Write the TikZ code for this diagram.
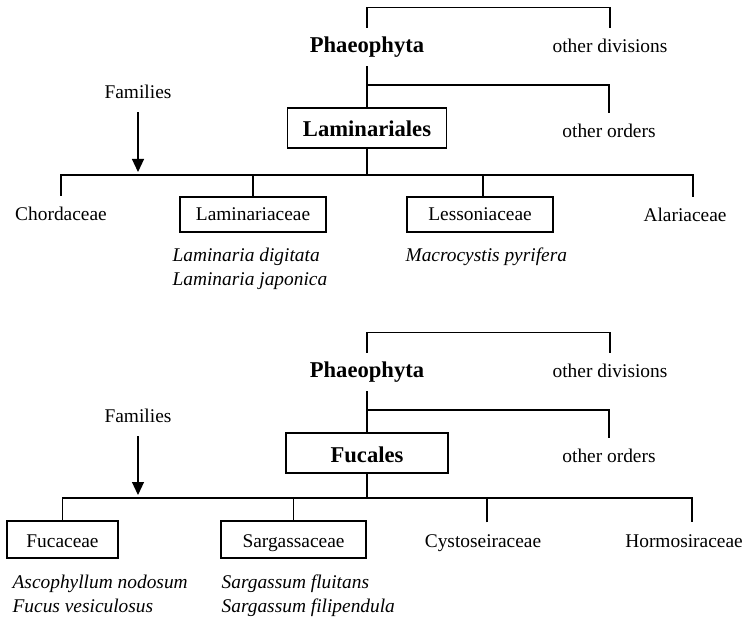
\documentclass[tikz,border=0pt]{standalone}
\usepackage{fontspec}
\setmainfont{Liberation Serif}
\usetikzlibrary{positioning,arrows.meta}

\begin{document}
\begin{tikzpicture}[x=0.5pt,y=-0.5pt,line width=0.6pt,
	txt/.style={inner sep=4pt,text height=8pt,text depth=2.5pt,font=\fontsize{9.7}{12}\selectfont},
	hd/.style={txt,font=\fontsize{11.3}{13}\selectfont\bfseries},
	box/.style={draw,txt,anchor=base,inner ysep=2pt,text height=11pt,text depth=3.5pt},
	hdbox/.style={box,hd,anchor=base,inner ysep=2pt,text height=12.5pt,text depth=3.5pt},
	sp/.style={inner sep=0pt,anchor=base west,font=\fontsize{9.7}{12}\selectfont\itshape},
	arr/.style={-{Triangle[length=6.5pt,width=6pt]},shorten >=1.5pt}]

	\useasboundingbox (0,0) rectangle (743,619);

	% Laminariales
	\node[hd] (p1) at (367,47) {Phaeophyta};
	\node[txt] (d1) at (610,47) {other divisions};
	\node[hdbox,minimum width=79.5pt] (lam) at (367,137) {Laminariales};
	\node[txt] (o1) at (609,132) {other orders};
	\node[txt] (f1) at (138,93) {Families};
	\coordinate (b1) at (367,85);
	\coordinate (j1) at (367,175);

	\node[txt] (ch) at (61,215) {Chordaceae};
	\node[box,minimum width=73pt,text height=10pt] (lc) at (253,221) {Laminariaceae};
	\node[box,minimum width=73pt,text height=10pt] (ls) at (480,221) {Lessoniaceae};
	\node[txt] (al) at (685,216) {Alariaceae};

	\node[sp] (s1) at (172,262) {Laminaria digitata};
	\node[sp,below=11.7pt of s1.base west,anchor=base west] (s2) {Laminaria japonica};
	\node[sp] (s3) at (405,262) {Macrocystis pyrifera};

	\draw (p1.north) -- ++(0,-20) -| (d1.north);
	\draw (p1.south) -- (lam.north);
	\draw (b1) -| (o1.north);
	\draw (lam.south) -- (j1);
	\draw (ch.north) |- (j1) -| ([xshift=4pt]al.north);
	\draw (lc.north) -- (lc.north |- j1);
	\draw ([xshift=1.5pt]ls.north) -- ([xshift=1.5pt]ls.north |- j1);
	\draw[arr] (f1.south) -- (f1.south |- j1);

	% Fucales
	\node[hd] (p2) at (367,372) {Phaeophyta};
	\node[txt] (d2) at (610,372) {other divisions};
	\node[hdbox,minimum width=81pt] (fuc) at (367,462) {Fucales};
	\node[txt] (o2) at (609,457) {other orders};
	\node[txt] (f2) at (138,417) {Families};
	\coordinate (b2) at (367,410);
	\coordinate (j2) at (367,498);

	\node[box,minimum width=55.5pt] (fc) at (62.5,547) {Fucaceae};
	\node[box,minimum width=72.5pt] (sg) at (293.5,547) {Sargassaceae};
	\node[txt] (cy) at (483,541.5) {Cystoseiraceae};
	\node[txt] (hm) at (684,541.5) {Hormosiraceae};

	\node[sp] (s4) at (12,588) {Ascophyllum nodosum};
	\node[sp,below=12pt of s4.base west,anchor=base west] (s5) {Fucus vesiculosus};
	\node[sp] (s6) at (221,588) {Sargassum fluitans};
	\node[sp,below=12pt of s6.base west,anchor=base west] (s7) {Sargassum filipendula};

	\draw (p2.north) -- ++(0,-20) -| (d2.north);
	\draw (p2.south) -- (fuc.north);
	\draw (b2) -| (o2.north);
	\draw (fuc.south) -- (j2);
	\draw (fc.north) |- (j2) -| ([xshift=4pt]hm.north);
	\draw (sg.north) -- (sg.north |- j2);
	\draw ([xshift=2pt]cy.north) -- ([xshift=2pt]cy.north |- j2);
	\draw[arr] (f2.south) -- (f2.south |- j2);
\end{tikzpicture}
\end{document}
